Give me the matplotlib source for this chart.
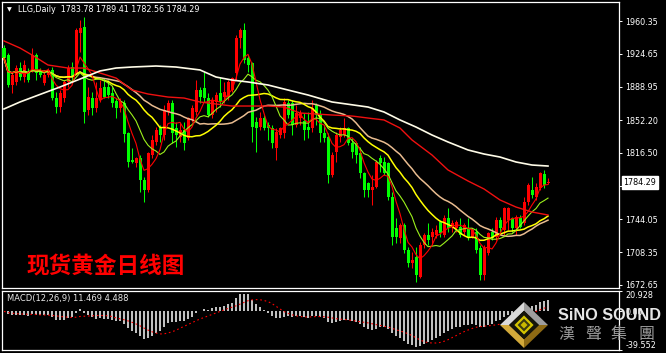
import matplotlib
matplotlib.use('Agg')
import matplotlib.pyplot as plt
from matplotlib.patches import Polygon
import numpy as np
import pandas as pd

# daily OHLC (oldest first)
opens = [1930.6, 1923.3, 1890.6, 1894.2, 1908.8, 1899.7, 1905.1, 1907.0, 1923.3, 1905.1,
         1892.4, 1901.5, 1907.0, 1876.1, 1867.0, 1876.1, 1894.2, 1910.6, 1903.3, 1946.9,
         1954.2, 1863.4, 1876.1, 1865.2, 1874.3, 1888.8, 1888.8, 1881.5, 1873.2, 1865.2,
         1870.6, 1837.9, 1808.9, 1805.2, 1810.7, 1787.1, 1776.2, 1814.3, 1828.8, 1843.4,
         1836.1, 1861.5, 1870.6, 1843.4, 1834.3, 1841.6, 1832.5, 1852.5, 1861.5, 1885.2,
         1887.0, 1876.1, 1857.9, 1872.4, 1881.5, 1877.9, 1877.9, 1885.2, 1903.3, 1941.5,
         1950.5, 1919.7, 1914.2, 1850.6, 1845.2, 1854.3, 1847.0, 1843.4, 1821.6, 1836.1,
         1837.9, 1870.6, 1870.6, 1847.0, 1854.3, 1851.4, 1845.2, 1843.4, 1868.8, 1857.9,
         1837.9, 1834.3, 1792.5, 1817.9, 1834.3, 1836.1, 1843.4, 1827.0, 1827.0, 1816.1,
         1794.3, 1783.4, 1776.2, 1779.8, 1810.7, 1807.0, 1805.2, 1768.9, 1734.4, 1723.5,
         1738.0, 1710.8, 1696.2, 1703.5, 1681.7, 1716.2, 1727.1, 1725.3, 1727.1, 1741.7,
         1727.1, 1745.3, 1736.2, 1734.4, 1736.2, 1730.8, 1734.4, 1725.3, 1730.8, 1712.6,
         1683.5, 1707.1, 1730.8, 1725.3, 1743.5, 1732.6, 1743.5, 1745.3, 1734.4, 1745.3,
         1739.8, 1763.5, 1776.2, 1768.9, 1778.0, 1793.3, 1783.78]
highs = [1934.2, 1925.1, 1905.1, 1912.4, 1916.0, 1917.9, 1908.8, 1930.6, 1925.1, 1908.8,
         1907.0, 1908.8, 1910.6, 1883.3, 1885.2, 1896.1, 1912.4, 1916.0, 1952.4, 1961.5,
         1965.1, 1888.8, 1883.3, 1894.2, 1896.1, 1897.9, 1896.1, 1888.8, 1876.1, 1876.1,
         1874.3, 1839.7, 1821.6, 1812.5, 1814.3, 1790.7, 1817.9, 1836.1, 1845.2, 1847.0,
         1868.8, 1874.3, 1874.3, 1850.6, 1848.8, 1850.6, 1856.1, 1868.8, 1896.1, 1888.8,
         1905.1, 1881.5, 1877.9, 1883.3, 1899.7, 1894.2, 1896.1, 1899.7, 1945.1, 1952.4,
         1957.8, 1923.3, 1916.0, 1856.1, 1861.5, 1857.9, 1850.6, 1847.0, 1843.4, 1845.2,
         1876.1, 1874.3, 1874.3, 1868.8, 1863.4, 1859.7, 1861.5, 1874.3, 1870.6, 1863.4,
         1847.0, 1837.9, 1817.9, 1839.7, 1845.2, 1854.3, 1845.2, 1832.5, 1828.8, 1823.4,
         1796.1, 1785.3, 1792.5, 1808.9, 1814.3, 1812.5, 1807.0, 1774.4, 1745.3, 1739.8,
         1739.8, 1714.4, 1709.0, 1714.4, 1719.9, 1728.9, 1739.8, 1734.4, 1738.0, 1743.5,
         1748.9, 1756.2, 1743.5, 1743.5, 1745.3, 1739.8, 1745.3, 1734.4, 1734.4, 1716.2,
         1716.2, 1730.8, 1734.4, 1747.1, 1747.1, 1758.0, 1758.0, 1747.1, 1748.9, 1748.9,
         1768.9, 1783.4, 1790.7, 1783.4, 1796.1, 1798.0, 1789.41]
lows = [1916.0, 1888.8, 1881.5, 1890.6, 1896.1, 1894.2, 1894.2, 1905.1, 1896.1, 1899.7,
        1890.6, 1899.7, 1874.3, 1859.7, 1861.5, 1872.4, 1888.8, 1894.2, 1901.5, 1926.9,
        1848.8, 1857.9, 1857.9, 1861.5, 1872.4, 1876.1, 1876.1, 1867.0, 1854.3, 1861.5,
        1828.8, 1801.6, 1805.2, 1801.6, 1774.4, 1763.5, 1774.4, 1810.7, 1825.2, 1828.8,
        1830.7, 1857.9, 1827.0, 1823.4, 1828.8, 1819.8, 1830.7, 1850.6, 1857.9, 1870.6,
        1872.4, 1856.1, 1854.3, 1861.5, 1867.0, 1870.6, 1874.3, 1883.3, 1896.1, 1930.6,
        1914.2, 1905.1, 1828.8, 1817.9, 1841.6, 1841.6, 1830.7, 1821.6, 1808.9, 1832.5,
        1832.5, 1854.3, 1836.1, 1845.2, 1847.0, 1830.7, 1832.5, 1839.7, 1847.0, 1828.8,
        1828.8, 1783.4, 1790.7, 1807.0, 1828.8, 1834.3, 1825.2, 1810.7, 1805.2, 1788.9,
        1768.9, 1768.9, 1759.8, 1778.0, 1796.1, 1792.5, 1765.3, 1716.2, 1718.0, 1718.0,
        1707.1, 1692.6, 1690.8, 1676.3, 1679.9, 1712.6, 1716.2, 1716.2, 1723.5, 1725.3,
        1725.3, 1730.8, 1730.8, 1730.8, 1725.3, 1727.1, 1721.7, 1723.5, 1707.1, 1678.1,
        1678.1, 1705.3, 1721.7, 1721.7, 1730.8, 1727.1, 1732.6, 1730.8, 1727.1, 1734.4,
        1738.0, 1759.8, 1767.1, 1765.3, 1776.2, 1778.0, 1782.56]
closes = [1919.7, 1890.6, 1901.5, 1908.8, 1899.7, 1912.4, 1896.1, 1923.3, 1903.3, 1901.5,
          1901.5, 1907.0, 1876.1, 1867.0, 1881.5, 1894.2, 1908.8, 1899.7, 1950.5, 1952.4,
          1861.5, 1877.9, 1865.2, 1876.1, 1887.0, 1877.9, 1879.7, 1870.6, 1865.2, 1873.2,
          1836.8, 1807.0, 1807.0, 1810.7, 1787.1, 1776.2, 1816.1, 1830.7, 1841.6, 1836.1,
          1863.4, 1870.6, 1837.9, 1836.1, 1841.6, 1827.0, 1854.3, 1865.2, 1885.2, 1877.9,
          1876.1, 1857.9, 1874.3, 1879.7, 1872.4, 1883.3, 1894.2, 1897.9, 1941.5, 1950.5,
          1917.9, 1912.4, 1845.2, 1843.4, 1854.3, 1843.4, 1843.4, 1827.0, 1839.7, 1843.4,
          1872.4, 1857.9, 1847.0, 1859.7, 1859.7, 1841.6, 1841.6, 1865.2, 1857.9, 1837.9,
          1832.5, 1792.5, 1814.3, 1836.1, 1841.6, 1843.4, 1827.0, 1817.9, 1814.3, 1794.3,
          1776.2, 1776.2, 1779.8, 1807.0, 1805.2, 1794.3, 1768.9, 1725.3, 1725.3, 1738.0,
          1710.8, 1696.2, 1699.9, 1683.5, 1716.2, 1727.1, 1721.7, 1730.8, 1732.6, 1728.9,
          1745.3, 1734.4, 1739.8, 1741.7, 1727.1, 1738.0, 1725.3, 1732.6, 1710.8, 1683.5,
          1712.6, 1728.9, 1723.5, 1743.5, 1734.4, 1756.2, 1756.2, 1734.4, 1747.1, 1736.2,
          1763.5, 1781.6, 1770.7, 1779.8, 1794.3, 1781.6, 1784.29]

# long averages (their history starts before the window)
slow_idx = [0, 4, 7, 11, 16, 20, 24, 28, 32, 36, 41, 45, 49, 53, 57, 61, 66,
            70, 74, 82, 87, 91, 95, 99, 102, 107, 111, 116, 120, 124, 128, 132, 136]
slow_val = [1938.6, 1930.9, 1923.3, 1912.4, 1909.1, 1909.1, 1903.7, 1898.2, 1885.2,
            1880.8, 1877.5, 1876.4, 1872.1, 1869.9, 1867.7, 1867.7, 1867.7, 1866.6,
            1860.1, 1857.9, 1856.8, 1854.6, 1852.5, 1843.7, 1830.7, 1814.3, 1798.0,
            1786.0, 1777.3, 1765.3, 1757.6, 1752.2, 1748.9]
white_idx = [0, 4, 9, 14, 19, 24, 28, 32, 38, 43, 49, 53, 57, 61, 66, 69, 76, 82,
             91, 95, 99, 103, 107, 111, 116, 120, 124, 128, 132, 136]
white_val = [1864.5, 1872.1, 1880.3, 1888.4, 1897.1, 1905.9, 1909.1, 1910.2, 1911.3,
             1910.2, 1907.0, 1899.3, 1896.0, 1893.9, 1890.6, 1887.3, 1879.7, 1872.1,
             1866.6, 1861.2, 1852.5, 1844.8, 1836.1, 1828.5, 1819.8, 1815.4, 1812.1,
             1806.7, 1803.4, 1802.3]

price_ticks = [1960.35, 1924.65, 1888.95, 1852.20, 1816.50, 1780.35, 1744.05, 1708.35, 1672.65]
last_price = 1784.29
macd_ticks = [20.928, 0.0, -39.552]
macd_labels = ['20.928', '0.00', '-39.552']
title = 'LLG,Daily  1783.78 1789.41 1782.56 1784.29'
macd_title = 'MACD(12,26,9) 11.469 4.488'

W, H = 666, 353


def box(x0, y0, x1, y1):
    return [x0 / W, 1 - y1 / H, (x1 - x0) / W, (y1 - y0) / H]


fig = plt.figure(figsize=(W / 100, H / 100), dpi=100, facecolor='black')
ax = fig.add_axes(box(2, 2, 619, 288))
mx = fig.add_axes(box(2, 291, 619, 350))

for a in (ax, mx):
    a.set_facecolor('black')
    for sp in a.spines.values():
        sp.set_color('white')
        sp.set_linewidth(0.9)
    a.set_xticks([])
    a.yaxis.tick_right()
    a.tick_params(axis='y', colors='white', length=2.5, width=0.7, pad=2,
                  labelsize=5.8, labelcolor='white')
    a.set_xlim(-0.5, 153.75)

o = np.array(opens)
h = np.array(highs)
l = np.array(lows)
c = np.array(closes)
idx = np.arange(len(c))
col = np.where(c >= o, '#FF0000', '#00FF00')

ax.vlines(idx, l, h, colors=col, lw=0.75, zorder=2)
ax.bar(idx, np.maximum(np.abs(c - o), 0.8), bottom=np.minimum(o, c), width=0.75,
       color=col, edgecolor='none', zorder=3)

s = pd.Series(c)
ax.plot(idx, s.rolling(30, min_periods=1).mean(), color='#E9BC90', lw=1.1, zorder=4)
ax.plot(idx, s.rolling(20, min_periods=1).mean(), color='#FFFF00', lw=1.1, zorder=4)
ax.plot(idx, s.rolling(10, min_periods=1).mean(), color='#9CF01C', lw=0.8, zorder=4)
ax.plot(idx, s.rolling(5, min_periods=1).mean(), color='#FF0000', lw=0.8, zorder=4)
ax.plot(slow_idx, slow_val, color='#F01010', lw=1.0, zorder=4)
ax.plot(white_idx, white_val, color='#FFFCE8', lw=1.2, zorder=4)

ax.set_ylim(1669.37, 1981.06)
ax.set_yticks(price_ticks)
ax.set_yticklabels(['%.2f' % p for p in price_ticks])

# current price marker on the scale (covers the 1780.35 label as in MT4)
ax.annotate('%.2f' % last_price, xy=(1.0, last_price), xycoords=('axes fraction', 'data'),
            xytext=(3, 0), textcoords='offset points', va='center', ha='left',
            fontsize=5.8, color='black', annotation_clip=False, zorder=20,
            bbox=dict(boxstyle='square,pad=0.2', fc='white', ec='white'))

# MACD panel
macd = s.ewm(span=12, adjust=False).mean() - s.ewm(span=26, adjust=False).mean()
signal = macd.rolling(9, min_periods=1).mean()
mx.bar(idx, macd, width=0.28, color='#C0C0C0', edgecolor='none', zorder=2)
mx.plot(idx, signal, color='#FF0000', lw=0.8, ls=(0, (1.5, 2.5)), zorder=3)
mx.set_ylim(-39.552, 20.928)
mx.set_yticks(macd_ticks)
mx.set_yticklabels(macd_labels)
tl = mx.get_yticklabels()
tl[0].set_va('top')
tl[2].set_va('bottom')

# overlay in pixel coordinates for texts and logo
ov = fig.add_axes([0, 0, 1, 1], zorder=10)
ov.set_xlim(0, W)
ov.set_ylim(H, 0)
ov.axis('off')
ov.patch.set_alpha(0)

ov.text(9.5, 10, '\u25bc', fontsize=4.5, color='white', ha='center', va='center')
ov.text(18, 10, title, fontsize=5.8, color='white', ha='left', va='center')
ov.text(7, 299, macd_title, fontsize=6, color='#E8E8E8', ha='left', va='center')
ov.text(27, 267, '现货黄金日线图', fontsize=16.3, color='#FF0000', fontweight='bold',
        family=['Noto Sans CJK SC', 'DejaVu Sans'], ha='left', va='center')

# SiNO SOUND logo
cx, cy, hx, hy = 524, 325, 24, 23
k = 0.62
T, R, B, L = (cx, cy - hy), (cx + hx, cy), (cx, cy + hy), (cx - hx, cy)
t, r, b, lft = (cx, cy - hy * k), (cx + hx * k, cy), (cx, cy + hy * k), (cx - hx * k, cy)
ov.add_patch(Polygon([T, L, lft, t], closed=True, fc='#D9D9D9', ec='none'))
ov.add_patch(Polygon([T, R, r, t], closed=True, fc='#9E9E9E', ec='none'))
ov.add_patch(Polygon([L, B, b, lft], closed=True, fc='#D2A93A', ec='none'))
ov.add_patch(Polygon([R, B, b, r], closed=True, fc='#8E6A14', ec='none'))
ov.add_patch(Polygon([t, r, b, lft], closed=True, fc='#15150A', ec='none'))
ov.add_patch(Polygon([(cx, cy - 8), (cx + 8, cy), (cx, cy + 8), (cx - 8, cy)], closed=True,
                     fc='#3A3A10', ec='#D4C400', lw=1.6))
ov.add_patch(Polygon([(cx, cy - 3.5), (cx + 3.5, cy), (cx, cy + 3.5), (cx - 3.5, cy)],
                     closed=True, fc='#C8B800', ec='none'))

ov.text(558, 316, 'SiNO SOUND', fontsize=11.7, color='#E6E6E6', fontweight='bold',
        family=['Liberation Sans', 'DejaVu Sans'], ha='left', va='center')
for xx, ch in zip([566, 593, 619, 646], '漢聲集團'):
    ov.text(xx, 334, ch, fontsize=11.5, color='#9A9A9A',
            family=['Noto Sans CJK TC', 'DejaVu Sans'], ha='center', va='center')

fig.savefig('out.png', dpi=100, facecolor='black')
